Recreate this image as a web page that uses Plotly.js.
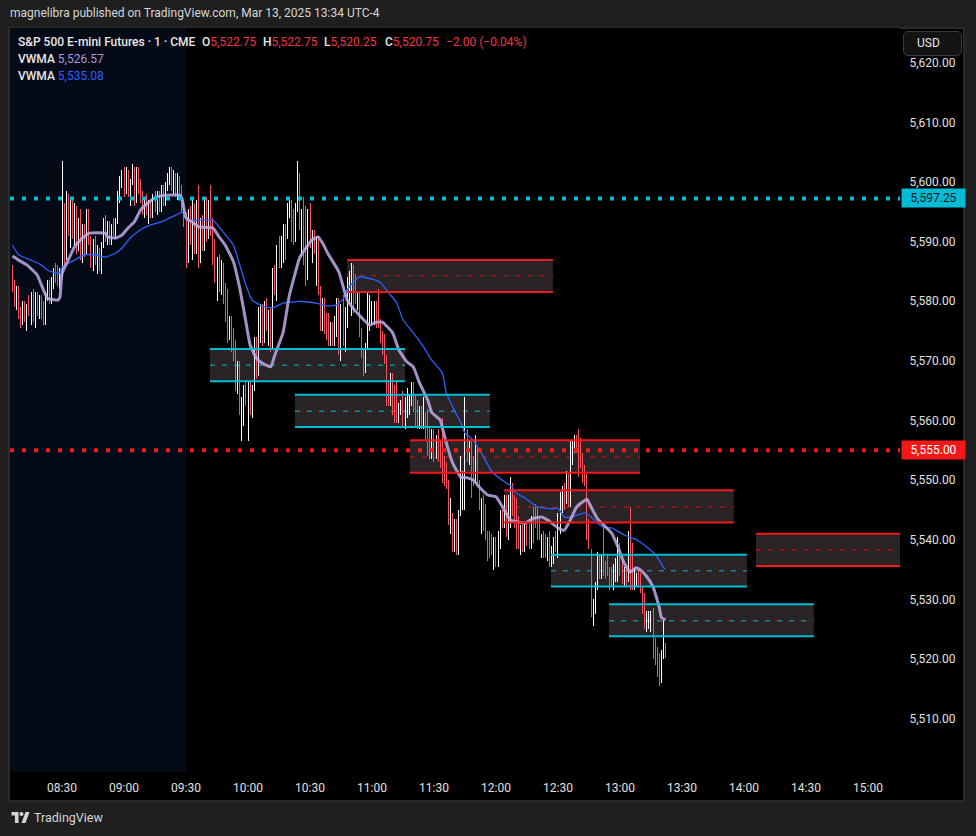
<!DOCTYPE html>
<html><head><meta charset="utf-8">
<script src="https://cdn.plot.ly/plotly-3.0.1.min.js"></script>
<style>
html,body{margin:0;padding:0;background:#1f1f1f;width:976px;height:836px;overflow:hidden;font-family:Roboto,"Open Sans",sans-serif;}
#frame{position:absolute;left:8px;top:27px;width:957px;height:775px;background:#000;border:2px solid #2a2a2a;box-sizing:border-box;}
#chart{position:absolute;left:0;top:0;width:976px;height:836px;}
#chart .ohlc path{shape-rendering:crispEdges;}
#hdr{position:absolute;left:10px;top:6px;font-size:12px;color:#d6d6d6;white-space:nowrap;}
.tok{position:absolute;font-size:12px;white-space:nowrap;color:#e8e8e8;font-weight:500;}
.r{color:#f23645;font-weight:400;}
#usd{position:absolute;left:903px;top:31px;width:59px;height:25px;border:1px solid #3a3a3a;border-radius:5px;background:#131313;color:#e6e6e6;font-size:12px;line-height:23px;box-sizing:border-box;padding-left:13px;}
#foot{position:absolute;left:11px;top:810px;color:#d6d6d6;font-size:12.5px;white-space:nowrap;}
#foot svg{vertical-align:-1px;margin-right:4px;}
</style></head>
<body>
<div id="frame"></div>
<div id="chart"></div>
<div id="hdr">magnelibra published on TradingView.com, Mar 13, 2025 13:34 UTC-4</div>
<div class="tok" style="left:18px;top:35px;">S&amp;P 500 E-mini Futures · 1 · CME</div>
<div class="tok" style="left:202px;top:35px;">O<span class="r">5,522.75</span></div>
<div class="tok" style="left:263px;top:35px;">H<span class="r">5,522.75</span></div>
<div class="tok" style="left:324px;top:35px;">L<span class="r">5,520.25</span></div>
<div class="tok" style="left:385px;top:35px;">C<span class="r">5,520.75</span></div>
<div class="tok r" style="left:446px;top:35px;">−2.00 (−0.04%)</div>
<div class="tok" style="left:18px;top:52px;">VWMA <span style="color:#a898dc;font-weight:400">5,526.57</span></div>
<div class="tok" style="left:18px;top:69px;">VWMA <span style="color:#2962ff;font-weight:400">5,535.08</span></div>
<div id="usd">USD</div>
<div id="foot"><svg width="19" height="11" viewBox="0 0 36 22"><path d="M14 22H7V7H0V0h14v22z" fill="#d6d6d6"/><circle cx="20" cy="4" r="4" fill="#d6d6d6"/><path d="M28 22h-8l8-22h8L28 22z" fill="#d6d6d6"/></svg>TradingView</div>
<script>
// ---- data ----
const day = '2025-03-13';
const firstBar = '08:06';
const opens = [
5585.0,5582.0,5580.0,5582.0,5578.0,5576.5,5579.5,5577.0,5578.5,5578.0,
5581.0,5577.0,5581.0,5578.0,5580.5,5577.5,5576.5,5581.0,5583.0,5580.0,
5583.5,5585.0,5583.5,5582.5,5585.0,5596.0,5588.0,5597.5,5592.0,5596.0,
5591.0,5595.5,5589.0,5593.5,5588.0,5592.0,5588.5,5595.0,5590.0,5586.0,
5590.0,5586.5,5588.5,5585.5,5589.5,5593.5,5591.0,5593.0,5590.0,5592.5,
5591.5,5593.5,5598.0,5600.5,5601.5,5598.5,5601.5,5598.0,5600.0,5602.0,
5597.0,5602.0,5598.5,5597.0,5595.0,5597.0,5595.5,5596.5,5594.5,5597.5,
5595.5,5598.0,5595.5,5599.0,5596.5,5599.5,5601.0,5602.0,5599.0,5601.0,
5598.0,5600.5,5598.0,5596.0,5593.0,5587.0,5595.0,5590.0,5596.0,5589.0,
5596.0,5587.0,5593.0,5589.0,5597.0,5591.0,5596.0,5592.0,5587.0,5584.0,
5586.5,5582.0,5586.0,5580.0,5577.0,5574.0,5577.0,5572.0,5571.0,5566.0,
5569.5,5562.0,5563.5,5565.0,5563.0,5566.0,5561.5,5565.5,5573.5,5568.0,
5575.0,5579.0,5573.5,5579.5,5576.0,5578.0,5572.5,5585.0,5582.0,5589.0,
5586.5,5590.0,5592.5,5591.0,5596.0,5597.0,5595.0,5590.5,5596.0,5601.0,
5593.0,5594.5,5592.0,5584.0,5594.5,5590.0,5591.5,5588.5,5590.5,5582.0,
5576.0,5580.0,5575.0,5574.0,5573.0,5576.0,5573.0,5577.0,5580.0,5572.0,
5579.0,5573.5,5578.5,5583.5,5584.5,5585.5,5582.0,5580.0,5581.0,5575.0,
5571.0,5568.5,5572.5,5580.0,5576.0,5576.5,5579.5,5581.5,5576.5,5573.5,
5572.0,5570.5,5566.0,5563.0,5567.5,5565.0,5565.5,5560.0,5562.5,5563.0,
5559.5,5561.0,5561.5,5563.0,5566.0,5564.0,5563.0,5559.0,5562.0,5559.0,
5561.0,5560.0,5558.5,5554.0,5558.0,5554.0,5557.0,5556.0,5559.5,5553.5,
5552.0,5549.0,5543.5,5544.0,5538.5,5543.0,5538.0,5544.5,5548.0,5545.5,
5558.0,5554.0,5556.0,5553.0,5550.0,5555.0,5549.5,5542.0,5547.0,5545.5,
5540.5,5541.0,5540.5,5536.0,5540.0,5536.0,5539.0,5544.5,5542.5,5547.0,
5541.0,5543.0,5549.0,5547.0,5546.5,5543.5,5539.0,5542.0,5538.5,5542.5,
5543.0,5539.0,5545.0,5545.5,5545.0,5543.0,5537.5,5541.0,5540.5,5537.0,
5541.0,5536.0,5536.5,5540.0,5538.0,5542.0,5545.0,5549.0,5546.5,5550.5,
5546.0,5553.0,5555.0,5557.0,5558.0,5556.5,5554.0,5552.0,5550.5,5543.0,
5538.0,5526.0,5528.0,5532.0,5537.0,5534.0,5541.0,5536.0,5537.0,5535.0,
5535.0,5532.0,5533.5,5534.0,5539.0,5537.0,5532.5,5535.0,5533.5,5545.0,
5539.0,5532.0,5532.5,5535.0,5534.0,5531.5,5530.5,5525.0,5525.5,5525.0,
5528.0,5523.0,5521.5,5520.5,5516.5,5521.0,5522.75];
const highs = [
5586.0,5583.5,5582.5,5582.5,5579.0,5580.0,5580.0,5579.5,5581.0,5581.5,
5582.0,5581.5,5581.5,5581.0,5581.0,5580.0,5581.5,5583.5,5583.5,5584.0,
5585.5,5586.5,5586.0,5585.5,5603.5,5596.5,5598.5,5598.0,5597.0,5597.0,
5596.5,5596.0,5594.0,5595.5,5593.0,5593.0,5595.5,5595.5,5591.0,5590.5,
5591.0,5589.5,5589.0,5590.0,5594.0,5594.5,5593.5,5593.5,5593.0,5594.0,
5594.0,5598.5,5601.0,5602.0,5602.5,5602.5,5602.0,5600.5,5603.0,5602.5,
5602.5,5602.5,5600.5,5598.5,5597.5,5598.0,5597.0,5597.0,5598.0,5598.5,
5598.5,5598.5,5599.5,5599.5,5600.0,5601.5,5602.5,5602.5,5602.0,5601.5,
5601.5,5601.0,5599.5,5597.0,5595.0,5595.5,5596.0,5597.0,5596.5,5597.0,
5599.5,5594.0,5594.5,5597.5,5597.5,5597.0,5599.5,5594.0,5590.5,5587.5,
5588.0,5587.0,5586.5,5583.0,5582.0,5577.5,5577.5,5575.5,5573.5,5570.0,
5570.0,5564.0,5566.0,5566.5,5566.5,5566.5,5566.0,5574.0,5574.0,5579.0,
5579.5,5579.5,5580.0,5580.5,5578.5,5579.0,5585.5,5586.0,5589.5,5591.0,
5591.0,5593.0,5593.0,5596.5,5597.5,5597.0,5595.5,5596.5,5603.5,5601.5,
5595.5,5597.5,5596.0,5595.5,5596.5,5592.0,5592.0,5591.0,5591.0,5582.5,
5580.5,5580.5,5578.0,5578.0,5576.5,5576.5,5577.5,5580.5,5580.5,5579.5,
5581.0,5579.0,5584.0,5585.0,5586.5,5586.0,5584.5,5581.5,5581.5,5575.5,
5572.0,5573.0,5581.5,5581.0,5580.0,5580.0,5580.0,5582.0,5577.0,5575.0,
5574.5,5571.0,5566.5,5568.0,5568.0,5566.0,5566.5,5563.0,5563.5,5565.0,
5564.0,5565.5,5564.5,5566.5,5566.5,5564.5,5563.5,5562.5,5562.5,5564.0,
5561.5,5562.0,5559.0,5558.5,5558.5,5557.5,5558.5,5556.5,5560.5,5554.0,
5553.0,5550.0,5547.0,5544.5,5543.5,5543.5,5545.0,5554.0,5551.5,5564.0,
5558.5,5556.5,5556.5,5554.0,5557.5,5555.5,5550.0,5547.0,5547.5,5546.0,
5541.5,5541.5,5541.0,5540.5,5540.5,5541.5,5545.0,5545.0,5547.5,5547.5,
5547.5,5550.5,5549.5,5547.5,5547.0,5544.0,5542.5,5542.5,5543.0,5543.0,
5543.5,5544.0,5545.5,5546.0,5545.5,5543.5,5541.0,5541.5,5541.0,5540.5,
5541.5,5539.0,5540.5,5541.5,5544.5,5548.0,5549.0,5549.5,5551.5,5551.0,
5556.5,5556.5,5557.5,5557.5,5558.5,5557.0,5554.5,5552.5,5551.0,5543.5,
5538.5,5530.0,5533.0,5538.0,5537.5,5537.5,5542.0,5536.5,5537.5,5535.5,
5535.5,5536.0,5537.0,5540.5,5539.5,5537.5,5535.5,5535.5,5541.5,5545.5,
5539.5,5535.5,5534.5,5535.5,5534.5,5532.0,5531.0,5528.0,5528.0,5528.0,
5528.5,5523.5,5522.0,5521.0,5521.5,5526.5,5522.75];
const lows = [
5581.5,5579.0,5578.5,5577.0,5575.5,5576.0,5576.5,5575.0,5577.5,5576.0,
5576.5,5575.5,5577.5,5577.0,5577.0,5576.0,5576.0,5580.0,5579.5,5579.5,
5582.0,5583.0,5582.5,5582.0,5584.0,5586.0,5587.0,5591.0,5589.0,5590.5,
5589.5,5588.0,5588.5,5587.0,5586.5,5587.5,5588.0,5589.5,5585.5,5585.0,
5586.0,5584.5,5585.0,5584.5,5589.0,5590.0,5589.5,5589.5,5589.5,5591.0,
5590.5,5593.0,5596.5,5599.0,5597.5,5598.0,5597.5,5596.0,5599.5,5596.0,
5596.5,5598.0,5596.5,5594.5,5594.0,5594.5,5593.0,5594.0,5594.0,5595.0,
5594.5,5595.0,5595.0,5596.0,5596.0,5598.5,5599.5,5598.5,5598.0,5597.5,
5597.0,5597.5,5595.0,5592.5,5585.5,5586.5,5589.5,5587.0,5588.0,5588.0,
5585.5,5586.5,5588.5,5588.5,5590.0,5590.5,5591.0,5586.0,5583.0,5580.0,
5581.5,5581.0,5579.5,5576.5,5573.0,5573.5,5571.5,5570.0,5565.0,5564.5,
5561.0,5556.5,5559.0,5562.5,5556.5,5561.0,5560.5,5565.0,5567.0,5567.5,
5573.0,5572.5,5573.0,5575.0,5572.5,5571.5,5572.0,5581.0,5580.0,5585.5,
5585.5,5586.5,5587.0,5590.5,5594.0,5590.0,5589.5,5590.0,5595.0,5592.0,
5587.5,5586.0,5582.5,5583.5,5589.0,5586.5,5588.0,5582.5,5581.0,5575.0,
5575.0,5574.5,5573.5,5572.5,5572.5,5572.5,5572.5,5574.0,5571.0,5570.0,
5572.5,5571.5,5575.5,5579.5,5577.5,5578.0,5579.5,5578.5,5574.0,5570.5,
5567.5,5568.0,5572.0,5575.0,5576.0,5576.0,5575.5,5575.5,5573.0,5571.0,
5569.5,5562.5,5562.5,5562.5,5561.0,5559.5,5559.5,5559.5,5561.0,5559.0,
5558.5,5560.5,5561.0,5562.5,5561.5,5559.0,5558.5,5558.5,5558.5,5558.5,
5556.5,5554.0,5553.5,5553.5,5553.0,5553.5,5553.0,5552.0,5549.5,5549.0,
5548.5,5542.5,5541.0,5538.0,5538.0,5537.5,5537.5,5544.0,5545.0,5545.0,
5553.0,5552.5,5547.0,5549.0,5549.5,5549.0,5545.0,5541.0,5541.5,5540.0,
5536.5,5537.0,5537.5,5535.0,5535.5,5535.5,5538.5,5542.0,5542.0,5540.5,
5540.0,5542.0,5544.0,5542.0,5538.5,5538.5,5537.5,5538.0,5538.0,5539.0,
5538.5,5538.5,5539.5,5542.0,5540.0,5540.0,5537.0,5537.0,5537.0,5536.5,
5535.5,5535.5,5536.0,5538.0,5537.0,5541.0,5544.5,5545.0,5546.0,5545.5,
5545.5,5552.5,5554.5,5554.5,5550.5,5552.0,5549.5,5549.0,5540.0,5538.5,
5527.0,5525.5,5527.5,5531.5,5533.5,5533.5,5534.0,5533.5,5534.0,5531.5,
5532.0,5531.5,5533.0,5533.0,5534.0,5532.5,5532.0,5532.0,5533.0,5531.5,
5531.5,5531.5,5532.0,5532.0,5531.0,5527.5,5525.0,5524.5,5525.0,5524.5,
5520.0,5519.0,5517.0,5515.5,5516.0,5520.0,5520.25];
const closes = [
5582.0,5580.0,5582.0,5578.0,5576.5,5579.5,5577.0,5578.5,5578.0,5581.0,
5577.0,5581.0,5578.0,5580.5,5577.5,5576.5,5581.0,5583.0,5580.0,5583.5,
5585.0,5583.5,5582.5,5585.0,5596.0,5588.0,5597.5,5592.0,5596.0,5591.0,
5595.5,5589.0,5593.5,5588.0,5592.0,5588.5,5595.0,5590.0,5586.0,5590.0,
5586.5,5588.5,5585.5,5589.5,5593.5,5591.0,5593.0,5590.0,5592.5,5591.5,
5593.5,5598.0,5600.5,5601.5,5598.5,5601.5,5598.0,5600.0,5602.0,5597.0,
5602.0,5598.5,5597.0,5595.0,5597.0,5595.5,5596.5,5594.5,5597.5,5595.5,
5598.0,5595.5,5599.0,5596.5,5599.5,5601.0,5602.0,5599.0,5601.0,5598.0,
5600.5,5598.0,5596.0,5593.0,5587.0,5595.0,5590.0,5596.0,5589.0,5596.0,
5587.0,5593.0,5589.0,5597.0,5591.0,5596.0,5592.0,5587.0,5584.0,5586.5,
5582.0,5586.0,5580.0,5577.0,5574.0,5577.0,5572.0,5571.0,5566.0,5569.5,
5562.0,5563.5,5565.0,5563.0,5566.0,5561.5,5565.5,5573.5,5568.0,5578.5,
5579.0,5573.5,5579.5,5576.0,5578.0,5572.5,5585.0,5582.0,5589.0,5586.5,
5590.0,5592.5,5592.0,5596.0,5597.0,5591.0,5590.5,5596.0,5602.5,5593.0,
5594.5,5587.0,5584.0,5594.5,5590.0,5591.5,5588.5,5590.5,5582.0,5576.0,
5580.0,5575.0,5574.0,5573.0,5576.0,5573.0,5577.0,5580.0,5572.0,5579.0,
5573.5,5578.5,5583.5,5584.5,5585.5,5579.0,5580.0,5581.0,5575.0,5571.0,
5568.5,5572.5,5580.0,5580.5,5579.5,5579.5,5576.0,5576.5,5573.5,5572.0,
5570.5,5563.5,5563.0,5567.5,5562.0,5560.5,5560.0,5562.5,5563.0,5559.5,
5563.5,5565.0,5564.0,5566.0,5562.0,5560.0,5559.0,5562.0,5559.0,5563.5,
5557.0,5555.0,5554.0,5558.0,5554.0,5557.0,5553.5,5552.5,5550.5,5549.5,
5549.0,5543.5,5546.0,5538.5,5543.0,5538.0,5544.5,5553.5,5551.0,5562.5,
5553.5,5556.0,5548.0,5550.0,5557.0,5549.5,5545.5,5546.5,5542.0,5540.5,
5537.0,5537.5,5538.0,5540.0,5536.0,5541.0,5544.5,5542.5,5547.0,5541.0,
5547.0,5550.0,5544.5,5542.5,5539.0,5539.0,5542.0,5538.5,5542.5,5539.5,
5539.0,5543.5,5540.0,5542.5,5540.5,5540.5,5540.5,5537.5,5537.5,5540.0,
5536.0,5538.5,5540.0,5538.5,5544.0,5547.5,5548.5,5545.5,5551.0,5546.0,
5556.0,5556.0,5557.0,5555.0,5551.5,5552.5,5550.0,5549.5,5541.0,5539.0,
5528.0,5529.5,5532.5,5537.5,5534.0,5537.0,5534.5,5534.0,5534.5,5532.0,
5532.5,5535.5,5536.5,5540.0,5534.5,5533.0,5535.0,5532.5,5541.0,5532.0,
5532.5,5535.0,5534.0,5532.5,5531.5,5528.0,5525.5,5527.5,5527.5,5527.5,
5521.0,5519.5,5517.5,5516.0,5521.0,5526.0,5520.75];

const vwmaFastTimes = ['08:06','08:09','08:13','08:18','08:21','08:23','08:28','08:29','08:30','08:33','08:36','08:39','08:43','08:51','08:52','08:56','08:59','09:02','09:05','09:08','09:12','09:16','09:21','09:27','09:28','09:30','09:33','09:36','09:43','09:46','09:49','09:53','09:56','09:59','10:01','10:04','10:07','10:11','10:13','10:17','10:20','10:23','10:25','10:28','10:31','10:34','10:36','10:39','10:44','10:48','10:53','10:59','11:02','11:05','11:10','11:13','11:17','11:20','11:23','11:27','11:29','11:33','11:34','11:36','11:39','11:43','11:46','11:49','11:52','11:56','12:00','12:04','12:07','12:14','12:18','12:22','12:25','12:30','12:33','12:36','12:39','12:44','12:46','12:49','12:52','12:56','12:59','13:02','13:05','13:08','13:10','13:13','13:16','13:19','13:20','13:22'];
const vwmaFast = [5587.6,5586.9,5586.1,5584.4,5581.9,5580.5,5580.2,5580.7,5584.7,5586.9,5589.1,5590.3,5591.4,5591.4,5590.8,5590.6,5591.1,5592.3,5593.3,5595.3,5596.6,5597.5,5597.8,5597.8,5597.3,5594.0,5593.3,5592.5,5592.3,5590.8,5589.4,5586.6,5582.2,5576.5,5572.7,5570.5,5569.6,5569.0,5571.0,5574.8,5581.0,5584.9,5587.3,5588.9,5590.3,5590.8,5589.8,5587.8,5584.9,5580.2,5578.0,5576.0,5576.5,5576.5,5574.7,5571.8,5569.8,5569.0,5566.3,5563.4,5561.3,5560.1,5558.9,5556.2,5552.9,5550.5,5550.4,5550.0,5548.8,5547.5,5547.2,5545.0,5543.3,5542.8,5543.6,5543.8,5543.3,5542.0,5541.6,5543.3,5545.5,5546.8,5545.5,5543.6,5542.5,5541.1,5538.8,5536.1,5534.6,5535.3,5534.9,5533.8,5532.1,5528.7,5527.0,5526.57];
const vwmaSlowTimes = ['08:06','08:09','08:15','08:20','08:23','08:28','08:29','08:30','08:36','08:41','08:46','08:51','08:56','08:59','09:03','09:08','09:13','09:18','09:23','09:27','09:28','09:31','09:43','09:48','09:53','09:56','09:59','10:02','10:07','10:12','10:17','10:23','10:25','10:33','10:39','10:43','10:46','10:48','10:51','10:54','11:00','11:04','11:07','11:12','11:15','11:20','11:25','11:29','11:34','11:36','11:39','11:43','11:45','11:49','11:54','11:58','12:03','12:08','12:09','12:14','12:20','12:27','12:30','12:33','12:36','12:43','12:46','12:49','12:52','12:56','13:02','13:08','13:13','13:16','13:18','13:21','13:22'];
const vwmaSlow = [5589.4,5587.8,5586.9,5586.1,5585.2,5584.7,5584.9,5585.7,5586.9,5587.8,5587.8,5587.4,5588.1,5588.9,5590.6,5592.0,5592.8,5593.3,5594.1,5594.8,5595.0,5593.6,5593.6,5591.6,5589.4,5586.1,5582.7,5580.2,5579.2,5578.9,5579.7,5579.9,5580.0,5579.7,5579.2,5579.4,5580.4,5581.9,5583.2,5584.1,5583.7,5583.2,5581.9,5579.7,5576.9,5574.7,5572.3,5570.1,5568.0,5564.6,5562.3,5559.6,5557.9,5556.7,5553.9,5551.4,5550.0,5548.8,5548.0,5547.0,5545.5,5545.2,5545.3,5543.8,5543.8,5544.5,5543.8,5542.8,5542.1,5542.0,5540.8,5540.0,5538.8,5537.9,5537.1,5535.4,5535.08];

const zoneStart = ['10:48:00','09:41:36','10:22:42','11:18:24','12:03:54','12:26:36','12:54:42','14:05:48'];
const zoneEnd   = ['12:27:30','11:16:00','11:57:00','13:09:42','13:55:00','14:01:24','14:33:48','15:20:00'];
const zoneHigh  = [5586.9, 5572.0, 5564.3, 5556.7, 5548.3, 5537.5, 5529.2, 5541.0];
const zoneLow   = [5581.55,5566.6, 5558.9, 5551.25,5542.9, 5532.15,5523.8, 5535.6];
const zoneMid   = [5584.3, 5569.25,5561.55,5553.9, 5545.5, 5534.8, 5526.4, 5538.3];
const zoneKind  = ['supply','demand','demand','supply','supply','demand','demand','supply'];

const levelPrices = [5597.25, 5555.00];
const levelKind = ['demand','supply'];
const levelLabels = ['5,597.25','5,555.00'];

const sessionOpen = '09:30';

// ---- build ----
function t(hm){ return day + ' ' + hm; }
const startParts = firstBar.split(':').map(Number);
const times = opens.map((_, i) => {
  const m = startParts[0]*60 + startParts[1] + i;
  const hh = String(Math.floor(m/60)).padStart(2,'0');
  const mm = String(m%60).padStart(2,'0');
  return t(hh + ':' + mm);
});

const RED = '#f21818', CYAN = '#00bcd4';
const colorOf = k => k === 'supply' ? RED : CYAN;
const midOf = k => k === 'supply' ? '#a01a1a' : '#11899a';

const xStart = t('08:04:50'), xEnd = t('15:15:30');

const shapes = [];
shapes.push({type:'rect', xref:'x', yref:'paper', x0:xStart, x1:t(sessionOpen), y0:0, y1:1,
  fillcolor:'#050a17', line:{width:0}, layer:'below'});
zoneStart.forEach((s, i) => {
  shapes.push({type:'rect', xref:'x', yref:'y', x0:t(s), x1:t(zoneEnd[i]), y0:zoneLow[i], y1:zoneHigh[i],
    fillcolor:'#2a2427', line:{width:0}, layer:'below'});
  shapes.push({type:'line', xref:'x', yref:'y', x0:t(s), x1:t(zoneEnd[i]), y0:zoneMid[i], y1:zoneMid[i],
    line:{color:midOf(zoneKind[i]), width:1.5, dash:'5px,7px'}, layer:'below'});
});
zoneStart.forEach((s, i) => {
  [zoneHigh[i], zoneLow[i]].forEach(p => shapes.push({type:'line', xref:'x', yref:'y', x0:t(s), x1:t(zoneEnd[i]),
    y0:p, y1:p, line:{color:colorOf(zoneKind[i]), width:2}, layer:'above'}));
});
levelPrices.forEach((p, i) => shapes.push({type:'line', xref:'paper', yref:'y', x0:0, x1:1, y0:p, y1:p,
  line:{color:colorOf(levelKind[i]), width:4, dash:'4px,8px'}, layer:'above'}));

const annotations = levelPrices.map((p, i) => ({
  xref:'paper', yref:'y', x:1, y:p, xanchor:'left', yanchor:'middle', xshift:1,
  text:levelLabels[i], showarrow:false, bgcolor:colorOf(levelKind[i]), width:61, height:16, align:'center',
  font:{family:'Roboto, sans-serif', size:12, color: levelKind[i]==='supply' ? '#ffffff' : '#0b0f17'}
}));

const traces = [
  {type:'ohlc', x:times, open:opens, high:highs, low:lows, close:closes,
   increasing:{line:{color:'#ffffff', width:1}}, decreasing:{line:{color:'#f7525f', width:1}},
   tickwidth:0.05, hoverinfo:'none', showlegend:false},
  {type:'scatter', mode:'lines', x:vwmaSlowTimes.map(t), y:vwmaSlow,
   line:{color:'#2962ff', width:1.3, shape:'spline', smoothing:0.4}, hoverinfo:'none', showlegend:false},
  {type:'scatter', mode:'lines', x:vwmaFastTimes.map(t), y:vwmaFast,
   line:{color:'rgba(190,170,230,0.85)', width:3, shape:'spline', smoothing:0.4}, hoverinfo:'none', showlegend:false}
];

const layout = {
  width:976, height:836,
  margin:{l:10, r:76, t:28, b:64},
  paper_bgcolor:'rgba(0,0,0,0)', plot_bgcolor:'#000000',
  showlegend:false,
  font:{family:'Roboto, sans-serif', size:12, color:'#e1e1e1'},
  xaxis:{type:'date', range:[xStart, xEnd], rangeslider:{visible:false},
    tick0:t('08:30'), dtick:30*60*1000, tickformat:'%H:%M',
    showgrid:false, zeroline:false, showline:false, ticks:'outside', ticklen:5, tickcolor:'rgba(0,0,0,0)',
    tickfont:{size:12, color:'#e1e1e1'}},
  yaxis:{side:'right', range:[5501.05, 5625.83], dtick:10, tick0:5500, tickformat:',.2f',
    showgrid:false, zeroline:false, showline:false, ticks:'outside', ticklen:6, tickcolor:'rgba(0,0,0,0)',
    tickfont:{size:12, color:'#e1e1e1'}},
  shapes:shapes, annotations:annotations
};

Plotly.newPlot('chart', traces, layout, {displayModeBar:false, staticPlot:true});
</script>
</body></html>
